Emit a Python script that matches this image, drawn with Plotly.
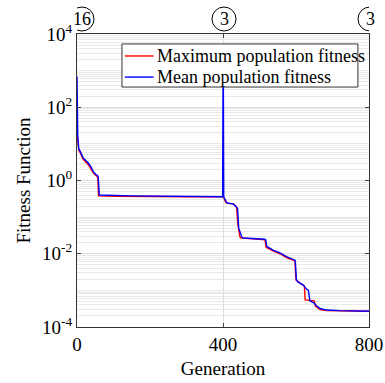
import plotly.graph_objects as go

# Mean population fitness (blue)
mean_gen = [0, 2, 5, 8, 17, 31, 40, 45, 54, 58, 61, 62, 150, 300, 398, 399, 400, 401, 402, 403, 405, 408, 410, 415, 428, 435,
            440, 443, 448, 452, 455, 490, 515, 517, 520, 537, 556, 574, 590, 598, 601, 605, 620, 628, 634, 638, 650, 656,
            666, 684, 720, 800]
mean_val = [680, 17, 7, 6.5, 4.1, 3.0, 2.2, 1.7, 1.4, 1.3, 0.42, 0.40, 0.38, 0.37, 0.36, 0.36, 350, 350, 0.36, 0.34, 0.32,
            0.28, 0.25, 0.24, 0.23, 0.2, 0.17, 0.05, 0.035, 0.028, 0.027, 0.026, 0.025, 0.024, 0.016, 0.0126, 0.0105,
            0.0083, 0.0072, 0.0066, 0.002, 0.0017, 0.0014, 0.0011, 0.001, 0.00052, 0.00045, 0.00038, 0.00032, 0.00029,
            0.00028, 0.00027]

# Maximum population fitness (red)
max_gen = [0, 1, 2, 5, 8, 17, 31, 40, 45, 54, 57, 59, 100, 300, 400, 403, 406, 410, 428, 437, 441, 446, 448, 515, 518,
           537, 556, 574, 597, 600, 620, 623, 625, 650, 653, 666, 684, 800]
max_val = [20, 17, 12, 6.6, 6.0, 3.8, 2.7, 2.0, 1.6, 1.3, 1.2, 0.38, 0.37, 0.36, 0.36, 0.33, 0.27, 0.24, 0.23, 0.19, 0.06,
           0.03, 0.027, 0.024, 0.015, 0.012, 0.01, 0.0079, 0.0064, 0.0019, 0.0014, 0.0013, 0.00055, 0.00052, 0.00037,
           0.0003, 0.00028, 0.00027]

series_names = ["Maximum population fitness", "Mean population fitness"]
series_colors = ["#ff0000", "#0000ff"]

x_ticks = [0, 400, 800]
y_ticks = [1e-4, 1e-2, 1, 1e2, 1e4]
y_ticktext = ["10<sup>-4</sup>", "10<sup>-2</sup>", "10<sup>0</sup>", "10<sup>2</sup>", "10<sup>4</sup>"]
top_marks_x = [0, 400, 800]
top_marks_text = ["16", "3", "3"]
top_marks_shift = [5, 1, 1]  # pixel nudges

FONT = "Liberation Serif, Times New Roman, serif"

fig = go.Figure()
fig.add_trace(go.Scatter(x=max_gen, y=max_val, mode="lines", name=series_names[0], showlegend=False,
                         line=dict(color=series_colors[0], width=1.4)))
fig.add_trace(go.Scatter(x=mean_gen, y=mean_val, mode="lines", name=series_names[1], showlegend=False,
                         line=dict(color=series_colors[1], width=1.4)))

# circled labels above the plot
for xv, t, sh in zip(top_marks_x, top_marks_text, top_marks_shift):
    fig.add_annotation(x=xv, y=1, xref="x", yref="paper", yanchor="middle", yshift=15, xshift=sh, text=t,
                       showarrow=False, font=dict(family=FONT, size=18, color="black"))
    fig.add_shape(type="circle", xref="x", yref="paper", xsizemode="pixel", ysizemode="pixel",
                  xanchor=xv, yanchor=1, x0=-12 + sh, x1=12 + sh, y0=3, y1=27, line=dict(color="black", width=1))

# legend box (drawn manually to match the compact MATLAB-style legend)
leg_x0, leg_x1, leg_y0, leg_y1 = 0.154, 0.962, 0.819, 0.966
fig.add_shape(type="rect", xref="paper", yref="paper", x0=leg_x0, x1=leg_x1, y0=leg_y0, y1=leg_y1,
              fillcolor="white", line=dict(color="#333333", width=1), layer="above")
row_y = [0.925, 0.853]
for name, col, ry in zip(series_names, series_colors, row_y):
    fig.add_shape(type="line", xref="paper", yref="paper", x0=0.164, x1=0.262, y0=ry, y1=ry,
                  line=dict(color=col, width=1.4), layer="above")
    fig.add_annotation(x=0.266, y=ry, xref="paper", yref="paper", xanchor="left", yanchor="middle",
                       text=name, showarrow=False, font=dict(family=FONT, size=18, color="black"))

fig.update_layout(
    width=385, height=383,
    margin=dict(l=77, r=16, t=34, b=56),
    paper_bgcolor="white", plot_bgcolor="white",
    font=dict(family=FONT, size=19, color="black"),
    showlegend=False,
    xaxis=dict(range=[0, 800], tickvals=x_ticks, ticks="inside", ticklen=4, showline=True, linecolor="#333333",
               mirror="allticks", showgrid=True, gridcolor="#dddddd", zeroline=False, automargin=False,
               tickfont=dict(family=FONT, size=19),
               title=dict(text="Generation", font=dict(family=FONT, size=19), standoff=7)),
    yaxis=dict(type="log", range=[-4, 4], tickvals=y_ticks, ticktext=y_ticktext, ticks="inside", ticklen=4,
               showline=True, linecolor="#333333", mirror="allticks", showgrid=True, gridcolor="#dddddd",
               minor=dict(showgrid=True, gridcolor="#e8e8e8", dtick="D1", ticks=""),
               zeroline=False, automargin=False, tickfont=dict(family=FONT, size=19),
               title=dict(text="Fitness Function", font=dict(family=FONT, size=19), standoff=6)),
)

fig.write_html("out.html")
